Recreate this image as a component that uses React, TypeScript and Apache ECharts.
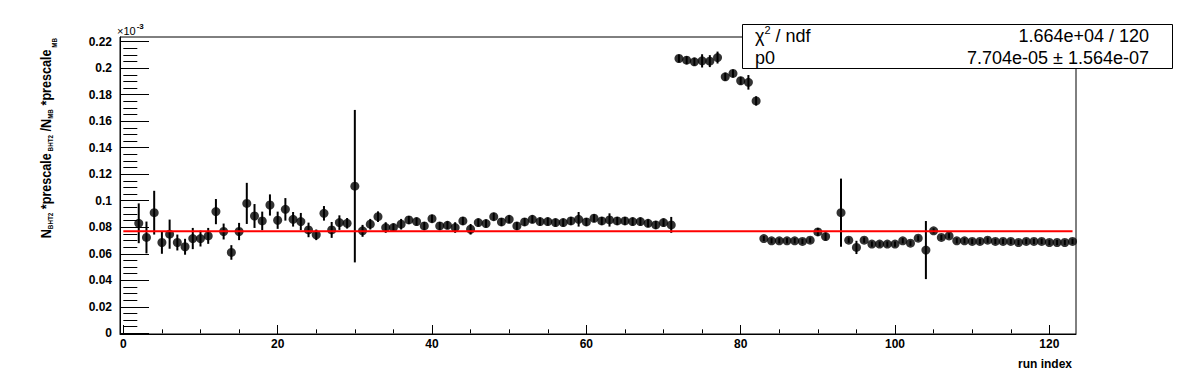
import React, { useEffect, useRef } from "react";
import * as echarts from "echarts";

// ---- data (values in units of 10^-3) ----
const runIndex = [
  2, 3, 4, 5, 6, 7, 8, 9, 10, 11,
  12, 13, 14, 15, 16, 17, 18, 19, 20, 21,
  22, 23, 24, 25, 26, 27, 28, 29, 30, 31,
  32, 33, 34, 35, 36, 37, 38, 39, 40, 41,
  42, 43, 44, 45, 46, 47, 48, 49, 50, 51,
  52, 53, 54, 55, 56, 57, 58, 59, 60, 61,
  62, 63, 64, 65, 66, 67, 68, 69, 70, 71,
  72, 73, 74, 75, 76, 77, 78, 79, 80, 81,
  82, 83, 84, 85, 86, 87, 88, 89, 90, 91,
  93, 94, 95, 96, 97, 98, 99, 100, 101, 102,
  103, 104, 105, 106, 107, 108, 109, 110, 111, 112,
  113, 114, 115, 116, 117, 118, 119, 120, 121, 122, 123,
];

const ratio = [
  0.083, 0.0723, 0.091, 0.0685, 0.0748, 0.0685, 0.0653, 0.0715, 0.0715, 0.0735,
  0.0918, 0.0768, 0.061, 0.0768, 0.098, 0.0885, 0.0848, 0.0968, 0.0853, 0.0935,
  0.086, 0.0843, 0.078, 0.0743, 0.0905, 0.078, 0.0835, 0.083, 0.111, 0.0773,
  0.0823, 0.088, 0.0798, 0.0798, 0.0823, 0.0855, 0.0843, 0.081, 0.0865, 0.081,
  0.0815, 0.0798, 0.0848, 0.0785, 0.0835, 0.0828, 0.088, 0.084, 0.086, 0.081,
  0.084, 0.086, 0.0843, 0.0843, 0.0835, 0.0835, 0.0848, 0.086, 0.084, 0.0868,
  0.0848, 0.0855, 0.0848, 0.0848, 0.0843, 0.0843, 0.083, 0.0818, 0.0835, 0.0818,
  0.2073, 0.206, 0.2048, 0.2055, 0.2053, 0.208, 0.1935, 0.196, 0.1905, 0.1893,
  0.1753, 0.0715, 0.0698, 0.0698, 0.0698, 0.0698, 0.0693, 0.0703, 0.0765, 0.073,
  0.091, 0.0703, 0.0648, 0.0703, 0.0673, 0.0673, 0.0673, 0.0673, 0.0698, 0.068,
  0.0718, 0.0628, 0.0773, 0.0723, 0.0735, 0.0698, 0.0698, 0.0693, 0.0693, 0.0703,
  0.0693, 0.0693, 0.0693, 0.0685, 0.0693, 0.0693, 0.0693, 0.0685, 0.0685, 0.0685, 0.0693,
];

const ratioErr = [
  0.015, 0.012, 0.0165, 0.0085, 0.011, 0.006, 0.006, 0.008, 0.006, 0.006,
  0.0095, 0.006, 0.0055, 0.0065, 0.0155, 0.009, 0.007, 0.008, 0.0065, 0.0085,
  0.0055, 0.0065, 0.0055, 0.004, 0.0055, 0.006, 0.0055, 0.004, 0.0575, 0.0045,
  0.004, 0.004, 0.004, 0.003, 0.004, 0.003, 0.003, 0.003, 0.003, 0.003,
  0.003, 0.004, 0.003, 0.004, 0.003, 0.003, 0.003, 0.003, 0.003, 0.003,
  0.003, 0.003, 0.003, 0.003, 0.003, 0.003, 0.003, 0.0055, 0.003, 0.003,
  0.003, 0.005, 0.003, 0.003, 0.003, 0.003, 0.003, 0.003, 0.003, 0.006,
  0.003, 0.003, 0.003, 0.005, 0.0045, 0.0045, 0.003, 0.003, 0.003, 0.0055,
  0.0035, 0.002, 0.002, 0.002, 0.002, 0.002, 0.002, 0.002, 0.003, 0.003,
  0.0257, 0.002, 0.005, 0.002, 0.002, 0.002, 0.002, 0.002, 0.002, 0.002,
  0.002, 0.0219, 0.002, 0.002, 0.002, 0.002, 0.002, 0.002, 0.002, 0.002,
  0.002, 0.002, 0.002, 0.002, 0.002, 0.002, 0.002, 0.002, 0.002, 0.002, 0.002,
];

const fitP0 = 0.07704; // x10^-3
const fitRange = [0, 123];

const xMajorTicks = [0, 20, 40, 60, 80, 100, 120];
const yMajorTicks = [0, 0.02, 0.04, 0.06, 0.08, 0.1, 0.12, 0.14, 0.16, 0.18, 0.2, 0.22];

const xTitle = "run index";
const yScaleNote = "-3";
const statsLabels = ["χ", " / ndf"];
const statsSup = "2";
const statsValues = ["1.664e+04 / 120", "7.704e-05 ± 1.564e-07"];
const p0Label = "p0";

const FONT = "'Liberation Sans', Arial, Helvetica, sans-serif";

export default function App() {
  const ref = useRef<HTMLDivElement>(null);

  useEffect(() => {
    if (!ref.current) return;
    const chart = echarts.init(ref.current, undefined, { renderer: "svg" });

    const xMinor: number[] = [];
    for (let k = 1; k * 5 <= 123; k++) if (k % 4 !== 0) xMinor.push(k * 5);
    const yMinor: number[] = [];
    for (let k = 1; k * 0.005 <= 0.2235; k++) if (k % 4 !== 0) yMinor.push(+(k * 0.005).toFixed(3));

    const gridRect = { left: 120, right: 120, top: 37, bottom: 38 };
    const xRange = { min: -0.43, max: 123.45 };
    const yRange = { min: -0.0005, max: 0.2235 };

    const option: any = {
      animation: false,
      grid: [
        { ...gridRect, show: true, borderColor: "#000", borderWidth: 1, backgroundColor: "#fff" },
        { ...gridRect, show: false },
      ],
      xAxis: [
        {
          type: "value", gridIndex: 0, ...xRange,
          axisLine: { show: true, onZero: false, lineStyle: { color: "#000", width: 1 } },
          axisTick: { show: true, inside: true, length: 9, customValues: xMajorTicks, lineStyle: { color: "#000", width: 1 } },
          axisLabel: {
            show: true, customValues: xMajorTicks, margin: 4, color: "#000",
            fontFamily: FONT, fontWeight: "bold", fontSize: 12,
            showMinLabel: true, showMaxLabel: true,
          },
          splitLine: { show: false },
        },
        {
          type: "value", gridIndex: 1, ...xRange,
          axisLine: { show: false },
          axisTick: { show: true, inside: true, length: 4, customValues: xMinor, lineStyle: { color: "#000", width: 1 } },
          axisLabel: { show: false },
          splitLine: { show: false },
        },
      ],
      yAxis: [
        {
          type: "value", gridIndex: 0, ...yRange,
          axisLine: { show: true, onZero: false, lineStyle: { color: "#000", width: 1 } },
          axisTick: { show: true, inside: true, length: 29, customValues: yMajorTicks, lineStyle: { color: "#000", width: 1 } },
          axisLabel: {
            show: true, customValues: yMajorTicks, margin: 8, color: "#000",
            fontFamily: FONT, fontWeight: "bold", fontSize: 12,
            formatter: (v: number) => String(parseFloat(Number(v).toFixed(3))),
          },
          splitLine: { show: false },
        },
        {
          type: "value", gridIndex: 1, ...yRange,
          axisLine: { show: false },
          axisTick: { show: true, inside: true, length: 14, customValues: yMinor, lineStyle: { color: "#000", width: 1 } },
          axisLabel: { show: false },
          splitLine: { show: false },
        },
      ],
      series: [
        {
          type: "custom",
          xAxisIndex: 0, yAxisIndex: 0,
          data: runIndex.map((x, i) => [x, ratio[i] - ratioErr[i], ratio[i] + ratioErr[i]]),
          encode: { x: 0, y: [1, 2] },
          renderItem: (_p: any, api: any) => {
            const a = api.coord([api.value(0), api.value(1)]);
            const b = api.coord([api.value(0), api.value(2)]);
            return {
              type: "line",
              shape: { x1: a[0], y1: a[1], x2: b[0], y2: b[1] },
              style: { stroke: "#000", lineWidth: 2 },
            };
          },
          z: 2,
        },
        {
          type: "scatter",
          xAxisIndex: 0, yAxisIndex: 0,
          data: runIndex.map((x, i) => [x, ratio[i]]),
          symbol: "circle",
          symbolSize: 9,
          itemStyle: { color: "#000" },
          z: 3,
        },
        {
          type: "line",
          xAxisIndex: 0, yAxisIndex: 0,
          data: [[fitRange[0], fitP0], [fitRange[1], fitP0]],
          showSymbol: false,
          symbol: "none",
          lineStyle: { color: "#ff0000", width: 2 },
          z: 4,
        },
      ],
      graphic: [
        {
          type: "text",
          x: 1072, y: 364,
          z: 10,
          style: { text: xTitle, align: "right", verticalAlign: "middle", fill: "#000", fontFamily: FONT, fontWeight: "bold", fontSize: 12 },
        },
        {
          type: "text",
          x: 117, y: 31,
          z: 10,
          style: {
            text: "×10{sup|" + yScaleNote + "}",
            align: "left", verticalAlign: "middle", fill: "#000",
            fontFamily: FONT, fontSize: 11,
            rich: {
              sup: { fontFamily: FONT, fontSize: 8, fontWeight: "bold", fill: "#000", padding: [0, 0, 9, 1] },
            },
          },
        },
        {
          type: "text",
          x: 46, y: 38,
          rotation: Math.PI / 2,
          scaleX: 0.9,
          z: 10,
          style: {
            text: "{m|N}{s|BHT2}{m| *prescale}{s| BHT2}{m| /N}{s|MB}{m| *prescale}{t| MB}",
            align: "right", verticalAlign: "middle",
            rich: {
              m: { fontFamily: FONT, fontSize: 14, fontWeight: "bold", fill: "#000" },
              s: { fontFamily: FONT, fontSize: 7, fontWeight: "bold", fill: "#000", padding: [8, 0, 0, 0] },
              t: { fontFamily: FONT, fontSize: 7, fontWeight: "bold", fill: "#000", padding: [16, 0, 0, 0] },
            },
          },
        },
        {
          type: "group",
          z: 20,
          children: [
            {
              type: "rect",
              shape: { x: 742.5, y: 24.5, width: 430, height: 44 },
              style: { fill: "#fff", stroke: "#000", lineWidth: 1 },
              z: 20,
            },
            {
              type: "text",
              x: 755, y: 35.5, z: 21,
              style: {
                text: statsLabels[0] + "{sup|" + statsSup + "}" + statsLabels[1],
                align: "left", verticalAlign: "middle", fill: "#000", fontFamily: FONT, fontSize: 18,
                rich: { sup: { fontFamily: FONT, fontSize: 11, fill: "#000", padding: [0, 0, 11, 0] } },
              },
            },
            {
              type: "text",
              x: 755, y: 57.5, z: 21,
              style: { text: p0Label, align: "left", verticalAlign: "middle", fill: "#000", fontFamily: FONT, fontSize: 18 },
            },
            {
              type: "text",
              x: 1149, y: 35.5, z: 21,
              style: { text: statsValues[0], align: "right", verticalAlign: "middle", fill: "#000", fontFamily: FONT, fontSize: 18 },
            },
            {
              type: "text",
              x: 1149, y: 57.5, z: 21,
              style: { text: statsValues[1], align: "right", verticalAlign: "middle", fill: "#000", fontFamily: FONT, fontSize: 18 },
            },
          ],
        },
      ],
    };

    chart.setOption(option);
    return () => chart.dispose();
  }, []);

  return (
    <div
      ref={ref}
      style={{ position: "fixed", left: 0, top: 0, width: 1196, height: 372, background: "#fff" }}
    />
  );
}
